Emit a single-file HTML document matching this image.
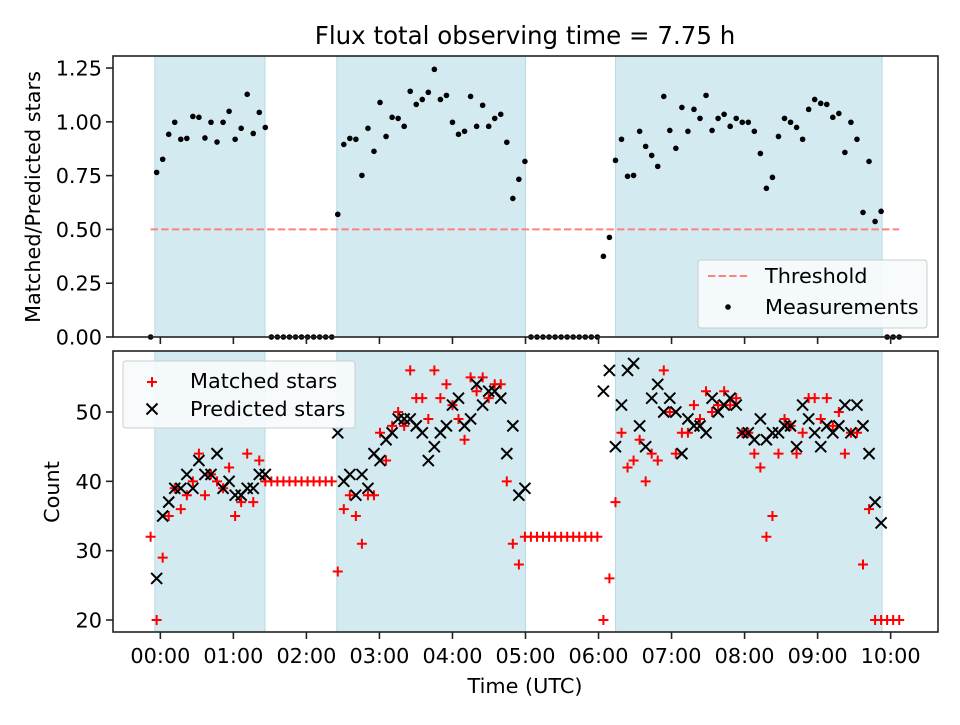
<!DOCTYPE html>
<html><head><meta charset="utf-8"><style>
body{margin:0;background:#fff;}
svg text{font-family:"DejaVu Sans","Liberation Sans",sans-serif;fill:#000;}
</style></head><body>
<svg id="fig" width="960" height="720" viewBox="0 0 960 720" xmlns="http://www.w3.org/2000/svg">
<rect width="960" height="720" fill="#fff"/>
<text x="525" y="44" font-size="24.5" text-anchor="middle">Flux total observing time = 7.75 h</text>
<text transform="translate(40,197) rotate(-90)" font-size="20.8" text-anchor="middle">Matched/Predicted stars</text>
<text transform="translate(59,492) rotate(-90)" font-size="20.8" text-anchor="middle">Count</text>
<text x="525" y="693" font-size="20.8" text-anchor="middle">Time (UTC)</text>
<g id="topPanel"></g>
<g id="botPanel"></g>
</svg>
<script>
// ---- data ----
const startMinutes = -8;
const stepMinutes = 4.96;
const ratioValues = [0,0.765,0.826,0.942,0.998,0.919,0.923,1.025,1.021,0.925,0.998,0.906,0.998,1.049,0.919,0.970,1.128,0.946,1.044,0.974,
0,0,0,0,0,0,0,0,0,0,0,
0.570,0.895,0.923,0.919,0.751,0.970,0.863,1.090,0.932,1.021,1.016,0.979,1.142,1.081,1.104,1.137,1.244,1.104,1.123,0.998,0.942,0.956,1.118,0.979,1.077,0.979,1.016,1.035,0.905,0.644,0.733,0.816,
0,0,0,0,0,0,0,0,0,0,0,0,
0.375,0.463,0.821,0.919,0.747,0.751,0.956,0.886,0.844,0.793,1.118,0.960,0.877,1.067,0.956,1.058,1.016,1.123,0.960,1.016,1.035,0.979,1.016,0.998,0.998,0.956,0.853,0.691,0.742,0.932,1.016,0.998,0.974,0.919,1.058,1.104,1.086,1.081,1.021,1.039,0.858,0.998,0.919,0.579,0.816,0.537,0.584,
0,0,0];
const matchedValues = [32,20,29,35,39,36,38,40,44,38,41,40,39,42,35,37,44,37,43,40,
40,40,40,40,40,40,40,40,40,40,40,
27,36,38,35,31,38,38,47,43,48,50,48,56,52,52,49,56,52,54,51,49,46,55,53,55,52,54,54,40,31,28,32,
32,32,32,32,32,32,32,32,32,32,32,32,
20,26,37,47,42,43,46,40,44,43,56,50,44,47,47,51,49,53,50,51,53,51,52,47,47,44,42,32,35,44,49,48,44,47,52,52,49,52,48,50,44,47,47,28,36,20,20,
20,20,20];
const predictedValues = [null,26,35,37,39,39,41,39,43,41,41,44,39,40,38,38,39,39,41,41,
null,null,null,null,null,null,null,null,null,null,null,
47,40,41,38,41,39,44,43,46,47,49,49,49,48,47,43,45,47,48,51,52,48,49,54,51,53,53,52,44,48,38,39,
null,null,null,null,null,null,null,null,null,null,null,null,
53,56,45,51,56,57,48,45,52,54,50,52,50,44,49,48,48,47,52,50,51,52,51,47,47,46,49,46,47,47,48,48,45,51,49,47,45,48,47,48,51,47,51,48,44,37,34,
null,null,null];
const observingBands = [[-4.5,86],[145,300],[374,593]];
const thresholdValue = 0.5;
const xTickLabels = ["00:00","01:00","02:00","03:00","04:00","05:00","06:00","07:00","08:00","09:00","10:00"];
const topYTicks = [0,0.25,0.5,0.75,1.0,1.25];
const botYTicks = [20,30,40,50];

// ---- scales ----
const L=113,R=938;
const xMin=-38.9,xMax=638.9;
const X=m=>L+(m-xMin)/(xMax-xMin)*(R-L);
const TT=56,TB=337, BT=351,BB=632;
const yT=v=>TB-(v-0)/(1.306-0)*(TB-TT);
const yB=v=>BB-(v-18.27)/(58.8-18.27)*(BB-BT);
const NS="http://www.w3.org/2000/svg";
function mk(tag,attrs,parent){const e=document.createElementNS(NS,tag);for(const k in attrs)e.setAttribute(k,attrs[k]);parent.appendChild(e);return e;}
const times=ratioValues.map((_,i)=>startMinutes+i*stepMinutes);
const topG=document.getElementById('topPanel'), botG=document.getElementById('botPanel');

function panel(g,y0,y1,name){
  mk('rect',{x:L,y:y0,width:R-L,height:y1-y0,fill:'#fff'},g);
  observingBands.forEach((b,i)=>{
    const r=mk('rect',{x:X(b[0]),y:y0,width:X(b[1])-X(b[0]),height:y1-y0,fill:'#d4eaf1',stroke:'#b3d9e5','stroke-width':1},g);
    
    
  });
}
panel(topG,TT,TB,'top');
panel(botG,BT,BB,'bottom');

// threshold
const th=mk('line',{x1:X(times[0]),x2:X(times[times.length-1]),y1:yT(thresholdValue),y2:yT(thresholdValue),stroke:'#ff8080','stroke-width':2,'stroke-dasharray':'7.4,3.2'},topG);



// measurements
ratioValues.forEach((v,i)=>{
  const c=mk('circle',{cx:X(times[i]),cy:yT(v),r:2.8,fill:'#000'},topG);
  
  
});

// matched (+)
matchedValues.forEach((v,i)=>{
  const x=X(times[i]),y=yB(v),s=5;
  const p=mk('path',{d:`M${x-s},${y}H${x+s}M${x},${y-s}V${y+s}`,stroke:'#ff0000','stroke-width':2,fill:'none'},botG);
  
  
});
// predicted (x)
predictedValues.forEach((v,i)=>{
  if(v===null)return;
  const x=X(times[i]),y=yB(v),s=5.5;
  const p=mk('path',{d:`M${x-s},${y-s}L${x+s},${y+s}M${x-s},${y+s}L${x+s},${y-s}`,stroke:'#000','stroke-width':2,fill:'none'},botG);
  
  
});

// frames & ticks
function frame(g,y0,y1,name){
  const f=mk('rect',{x:L,y:y0,width:R-L,height:y1-y0,fill:'none',stroke:'#222','stroke-width':1.6},g);
  
  
  xTickLabels.forEach((lab,i)=>{
    const x=X(i*60);
    const t=mk('line',{x1:x,x2:x,y1:y1,y2:y1+7,stroke:'#222','stroke-width':1.6},g);
    
    
  });
}
frame(topG,TT,TB,'top');
frame(botG,BT,BB,'bottom');
xTickLabels.forEach((lab,i)=>{
  const t=mk('text',{x:X(i*60),y:BB+31,'font-size':20.8,'text-anchor':'middle'},botG);
  t.textContent=lab;
  
  
});
topYTicks.forEach(v=>{
  const y=yT(v);
  const l=mk('line',{x1:L-7,x2:L,y1:y,y2:y,stroke:'#222','stroke-width':1.6},topG);
  
  
  const t=mk('text',{x:L-11,y:y+7.5,'font-size':20.8,'text-anchor':'end'},topG);
  t.textContent=v.toFixed(2);
  
  
});
botYTicks.forEach(v=>{
  const y=yB(v);
  const l=mk('line',{x1:L-7,x2:L,y1:y,y2:y,stroke:'#222','stroke-width':1.6},botG);
  
  
  const t=mk('text',{x:L-11,y:y+7.5,'font-size':20.8,'text-anchor':'end'},botG);
  t.textContent=String(v);
  
  
});

// legends
const lg1=mk('g',{},topG);


mk('rect',{x:698,y:260,width:229,height:68,rx:3,fill:'#f7fbfc','fill-opacity':0.9,stroke:'#ccc'},lg1);
mk('line',{x1:708,x2:748,y1:276,y2:276,stroke:'#ff8080','stroke-width':2,'stroke-dasharray':'7.4,3.2'},lg1);
const a1=mk('text',{x:765,y:283,'font-size':20.8},lg1);a1.textContent='Threshold';


mk('circle',{cx:728,cy:307,r:2.8,fill:'#000'},lg1);
const a2=mk('text',{x:765,y:314,'font-size':20.8},lg1);a2.textContent='Measurements';



const lg2=mk('g',{},botG);


mk('rect',{x:123,y:361,width:232,height:67,rx:3,fill:'#f7fbfc','fill-opacity':0.9,stroke:'#ccc'},lg2);
mk('path',{d:'M147,382H157M152,377V387',stroke:'#f00','stroke-width':2},lg2);
const b1=mk('text',{x:190,y:388,'font-size':20.8},lg2);b1.textContent='Matched stars';


mk('path',{d:'M146.5,403.5L157.5,414.5M146.5,414.5L157.5,403.5',stroke:'#000','stroke-width':2},lg2);
const b2=mk('text',{x:190,y:416,'font-size':20.8},lg2);b2.textContent='Predicted stars';


</script>
</body></html>
